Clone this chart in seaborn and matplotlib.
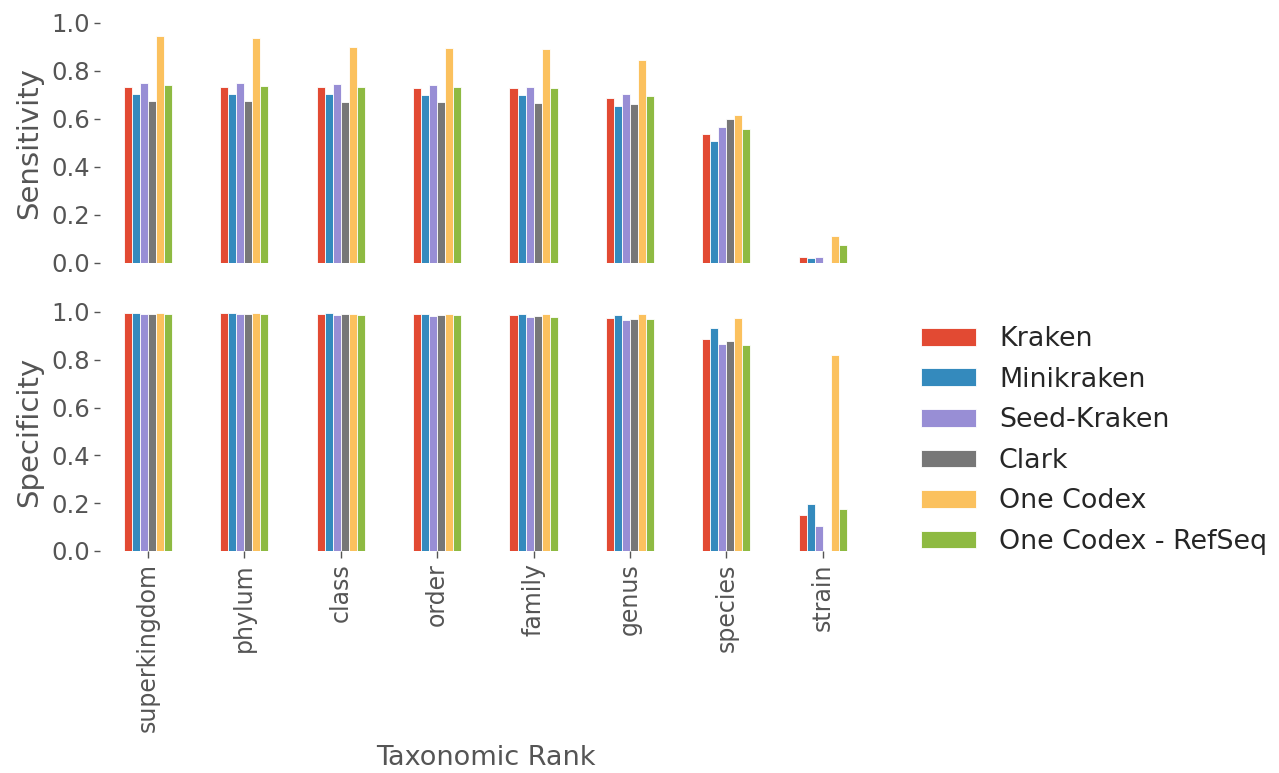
import numpy as np
import pandas as pd
import matplotlib
matplotlib.use("Agg")
import matplotlib.pyplot as plt
import seaborn as sns

ranks = ["superkingdom", "phylum", "class", "order", "family", "genus", "species", "strain"]
methods = ["Kraken", "Minikraken", "Seed-Kraken", "Clark", "One Codex", "One Codex - RefSeq"]
colors = ["#E24A33", "#348ABD", "#988ED5", "#777777", "#FBC15E", "#8EBA42"]

sens_kraken      = [0.735, 0.735, 0.732, 0.729, 0.728, 0.686, 0.539, 0.024]
sens_minikraken  = [0.704, 0.704, 0.703, 0.700, 0.699, 0.654, 0.510, 0.022]
sens_seedkraken  = [0.751, 0.749, 0.745, 0.740, 0.735, 0.704, 0.567, 0.026]
sens_clark       = [0.675, 0.674, 0.672, 0.670, 0.668, 0.661, 0.599, np.nan]
sens_onecodex    = [0.946, 0.938, 0.900, 0.897, 0.890, 0.846, 0.615, 0.113]
sens_onecodex_rs = [0.740, 0.738, 0.735, 0.732, 0.729, 0.696, 0.557, 0.074]

spec_kraken      = [0.997, 0.996, 0.992, 0.990, 0.986, 0.976, 0.888, 0.149]
spec_minikraken  = [0.997, 0.996, 0.995, 0.993, 0.990, 0.988, 0.932, 0.195]
spec_seedkraken  = [0.993, 0.992, 0.988, 0.985, 0.978, 0.965, 0.865, 0.106]
spec_clark       = [0.993, 0.992, 0.990, 0.986, 0.983, 0.971, 0.879, np.nan]
spec_onecodex    = [0.996, 0.996, 0.993, 0.993, 0.993, 0.993, 0.974, 0.820]
spec_onecodex_rs = [0.992, 0.990, 0.988, 0.986, 0.981, 0.970, 0.861, 0.174]

sens = [sens_kraken, sens_minikraken, sens_seedkraken, sens_clark, sens_onecodex, sens_onecodex_rs]
spec = [spec_kraken, spec_minikraken, spec_seedkraken, spec_clark, spec_onecodex, spec_onecodex_rs]


def long_df(series):
    rows = []
    for m, vals in zip(methods, series):
        for r, v in zip(ranks, vals):
            rows.append({"rank": r, "method": m, "value": v})
    return pd.DataFrame(rows).dropna()


sns.set_style("ticks")
plt.rcParams["font.family"] = ["DejaVu Sans"]
grey = "#555555"

fig = plt.figure(figsize=(12.79, 7.73), dpi=100)
ax1 = fig.add_axes([0.078, 0.6598, 0.603, 0.3105])
ax2 = fig.add_axes([0.078, 0.2872, 0.603, 0.3092])

for ax, series, label in [(ax1, sens, "Sensitivity"), (ax2, spec, "Specificity")]:
    sns.barplot(data=long_df(series), x="rank", y="value", hue="method",
                order=ranks, hue_order=methods, palette=colors, width=0.5,
                saturation=1, edgecolor="white", linewidth=0.6, ax=ax,
                legend=(ax is ax2))
    ax.set_ylim(0, 1.0)
    ax.set_xlim(-0.5, len(ranks) - 0.5)
    ax.set_yticks([0.0, 0.2, 0.4, 0.6, 0.8, 1.0])
    ax.set_yticklabels(["0.0", "0.2", "0.4", "0.6", "0.8", "1.0"])
    ax.set_ylabel(label, fontsize=21, color=grey, labelpad=6)
    ax.tick_params(axis="y", labelsize=17.5, colors=grey, length=4, width=1, pad=3)
    ax.tick_params(axis="y", labelcolor=grey)
    sns.despine(ax=ax, left=True, bottom=True)

ax1.set_xlabel("")
ax1.tick_params(axis="x", bottom=False, labelbottom=False)

ax2.set_xlabel("Taxonomic Rank", fontsize=19.5, color=grey, labelpad=9)
ax2.tick_params(axis="x", labelsize=17, colors=grey, length=5, width=1, labelrotation=90, pad=4)
ax2.tick_params(axis="x", labelcolor=grey)

handles, labels = ax2.get_legend_handles_labels()
ax2.get_legend().remove()
fig.legend(handles, labels, loc="center left", bbox_to_anchor=(0.701, 0.43),
           frameon=False, fontsize=19.4, handlelength=2.04, handleheight=0.63,
           handletextpad=0.86, labelspacing=0.54, borderpad=0.4)

fig.savefig("out.png", dpi=100)
